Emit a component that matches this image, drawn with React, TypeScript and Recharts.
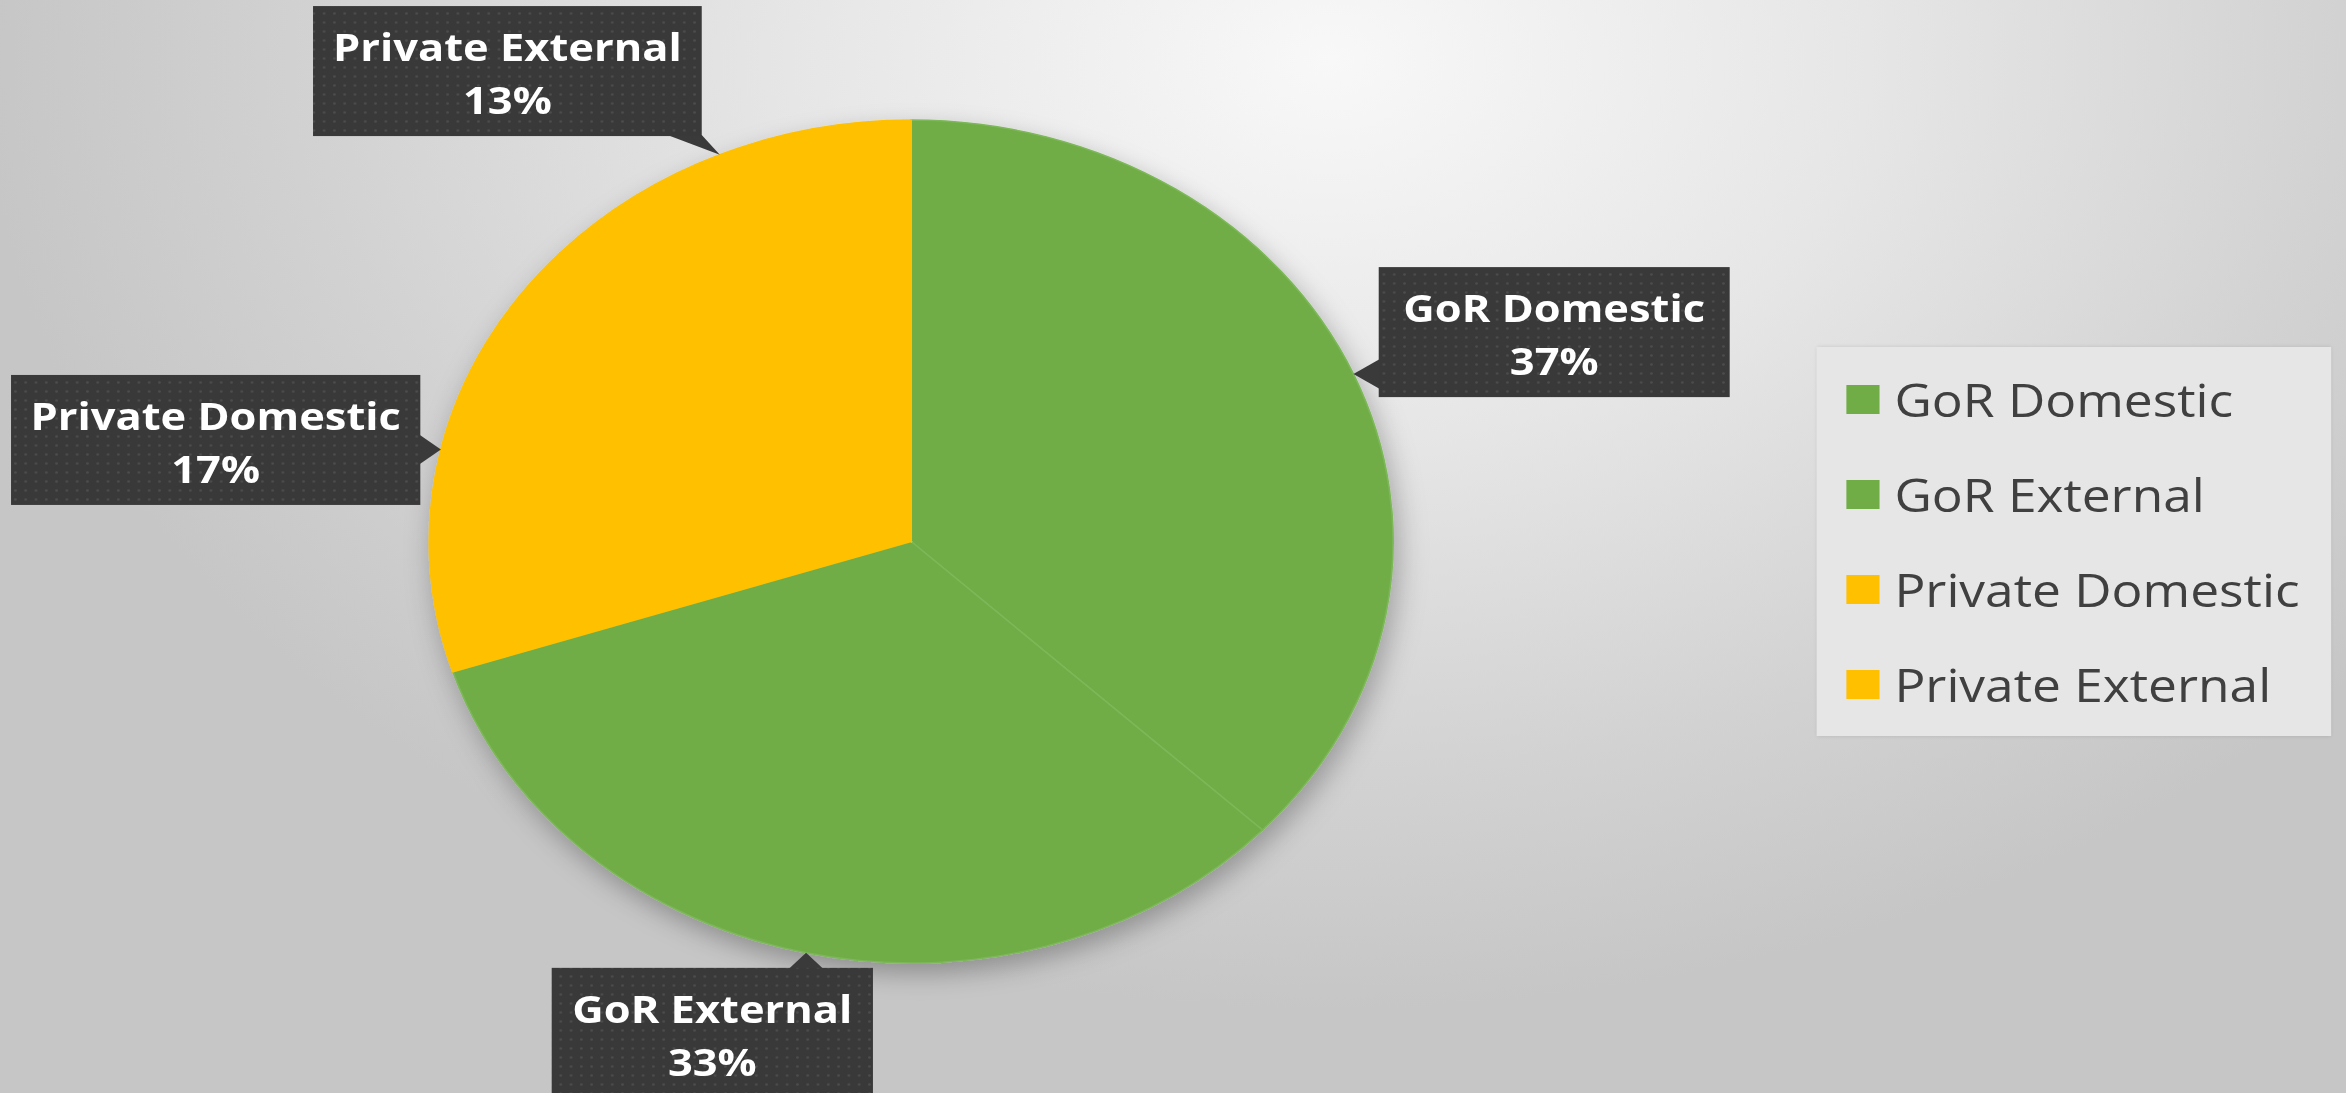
import React from 'react';
import { PieChart, Pie, Cell, Legend } from 'recharts';

// ---- data ----
const categories = ['GoR Domestic', 'GoR External', 'Private Domestic', 'Private External'];
const shares = [37, 33, 17, 13];
const sliceColors = ['#70AD47', '#70AD47', '#FFC000', '#FFC000'];
const sliceStrokes = ['#7cb858', '#7cb858', '#FFC000', '#FFC000'];

const data = categories.map((name, i) => ({ name, value: shares[i] }));

// ---- callout label layout (offset of box centre from slice's outer midpoint) ----
const labelOffsets: [number, number][] = [
  [175.6, -42],
  [-82, 80],
  [-197, -9.6],
  [-185.8, -83.6],
];
const labelWidths = [307, 281, 358, 340];
const BOX_H = 130;

const W = 2346;
const H = 1093;
const IW = 2052;
const SX = W / IW;
const RAD = Math.PI / 180;

const clamp = (v: number, lo: number, hi: number) => Math.max(lo, Math.min(hi, v));

function CalloutLabel(props: any) {
  const { cx, cy, midAngle, outerRadius, index, name, percent } = props;
  const ax = cx + outerRadius * Math.cos(-midAngle * RAD);
  const ay = cy + outerRadius * Math.sin(-midAngle * RAD);
  const [ox, oy] = labelOffsets[index];
  const w = labelWidths[index];
  const bx = ax + ox - w / 2;
  const by = ay + oy - BOX_H / 2;
  const dl = bx - ax;
  const dr = ax - (bx + w);
  const dt = by - ay;
  const db = ay - (by + BOX_H);
  const m = Math.max(dl, dr, dt, db);
  const half = 15;
  let pts = '';
  if (m === dl) {
    const yy = clamp(ay, by + half, by + BOX_H - half);
    pts = `${ax},${ay} ${bx + 1},${yy - half} ${bx + 1},${yy + half}`;
  } else if (m === dr) {
    const yy = clamp(ay, by + half, by + BOX_H - half);
    pts = `${ax},${ay} ${bx + w - 1},${yy - half} ${bx + w - 1},${yy + half}`;
  } else if (m === dt) {
    const xx = clamp(ax, bx + half, bx + w - half);
    pts = `${ax},${ay} ${xx - half},${by + 1} ${xx + half},${by + 1}`;
  } else {
    const xx = clamp(ax, bx + half, bx + w - half);
    pts = `${ax},${ay} ${xx - half},${by + BOX_H - 1} ${xx + half},${by + BOX_H - 1}`;
  }
  const tx = bx + w / 2;
  return (
    <g>
      <polygon points={pts} fill="#3a3a3a" />
      <rect x={bx} y={by} width={w} height={BOX_H} fill="url(#dots)" />
      <text
        x={tx}
        y={by + 40}
        textAnchor="middle"
        dominantBaseline="central"
        fill="#ffffff"
        fontFamily="'Open Sans', sans-serif"
        fontWeight={700}
        fontSize={38}
      >
        {name}
      </text>
      <text
        x={tx}
        y={by + 93}
        textAnchor="middle"
        dominantBaseline="central"
        fill="#ffffff"
        fontFamily="'Open Sans', sans-serif"
        fontWeight={700}
        fontSize={38}
      >
        {`${Math.round(percent * 100)}%`}
      </text>
    </g>
  );
}

const renderLegend = (props: any) => {
  const payload = props.payload || [];
  return (
    <div
      style={{
        width: '100%',
        height: '100%',
        boxSizing: 'border-box',
        background: '#e6e6e6',
        boxShadow: '0 0 4px rgba(0,0,0,0.12)',
        paddingTop: 5,
      }}
    >
      {payload.map((p: any, i: number) => (
        <div key={i} style={{ height: 95, display: 'flex', alignItems: 'center', paddingLeft: 26 }}>
          <span
            style={{
              display: 'inline-block',
              width: 29,
              height: 29,
              background: p.color || sliceColors[i],
              marginRight: 13,
              flexShrink: 0,
            }}
          />
          <span style={{ fontFamily: "'Open Sans', sans-serif", fontSize: 45, color: '#404040', whiteSpace: 'nowrap' }}>
            {p.value}
          </span>
        </div>
      ))}
    </div>
  );
};

export default function App() {
  return (
    <div
      style={{
        position: 'absolute',
        left: 0,
        top: 0,
        width: W,
        height: H,
        overflow: 'hidden',
        background:
          'radial-gradient(ellipse 1350px 950px at 1330px 60px, #f8f8f8 0%, #e6e6e6 40%, #d2d2d2 75%, #c6c6c6 100%)',
      }}
    >
      <style>{`.recharts-pie { filter: url(#softShadow); }`}</style>
      <div style={{ width: IW, height: H, transform: `scaleX(${SX})`, transformOrigin: '0 0' }}>
        <PieChart width={IW} height={H} margin={{ top: 0, right: 0, bottom: 0, left: 0 }}>
          <defs>
            <filter id="softShadow" x="-20%" y="-20%" width="140%" height="140%">
              <feDropShadow dx="4" dy="10" stdDeviation="12" floodColor="#000" floodOpacity="0.28" />
            </filter>
            <pattern id="dots" width="9" height="9" patternUnits="userSpaceOnUse">
              <rect width="9" height="9" fill="#393939" />
              <circle cx="4.5" cy="4.5" r="1.2" fill="#4c4c4c" />
            </pattern>
          </defs>
          <Pie
            data={data}
            dataKey="value"
            nameKey="name"
            cx={797}
            cy={541.5}
            outerRadius={421.5}
            startAngle={90}
            endAngle={-270}
            isAnimationActive={false}
            label={CalloutLabel}
            labelLine={false}
          >
            {data.map((d, i) => (
              <Cell key={d.name} fill={sliceColors[i]} stroke={sliceStrokes[i]} strokeWidth={1.5} />
            ))}
          </Pie>
          <Legend
            layout="vertical"
            align="right"
            verticalAlign="top"
            content={renderLegend}
            wrapperStyle={{ left: 1589, top: 347, width: 450, height: 389 }}
          />
        </PieChart>
      </div>
    </div>
  );
}
